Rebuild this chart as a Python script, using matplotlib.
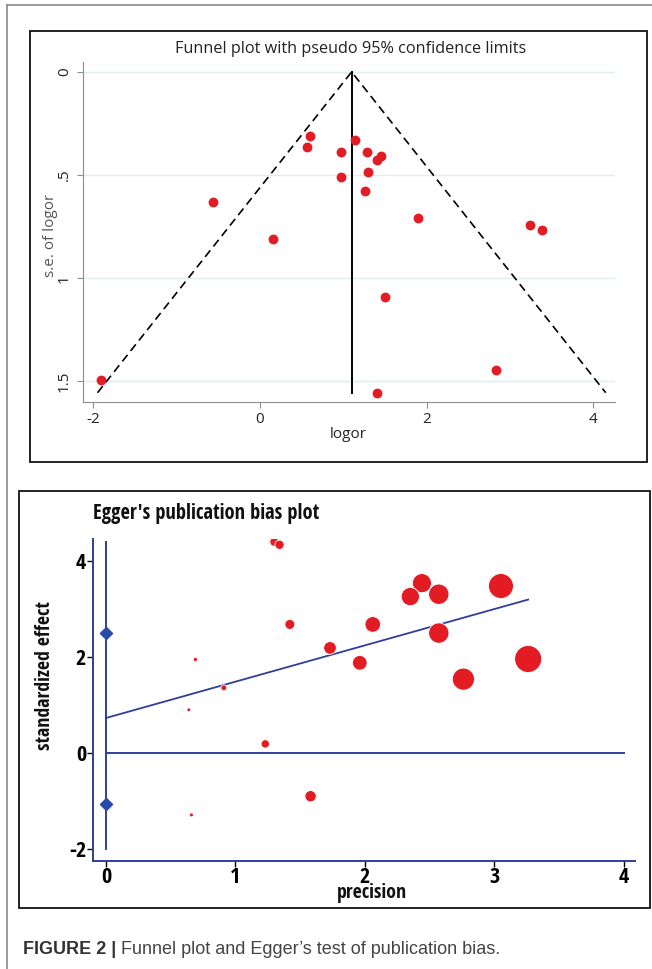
import numpy as np
import matplotlib
matplotlib.use("Agg")
import matplotlib.pyplot as plt
from matplotlib.patches import Rectangle
from matplotlib.lines import Line2D

# funnel plot data: log odds ratio and its standard error
logor = [0.60, 0.56, 1.14, 0.97, 1.29, 1.45, 1.40, 1.30, 0.97, 1.26,
         -0.56, 1.90, 3.24, 3.38, 0.16, 1.50, 2.83, -1.91, 1.40]
se_logor = [0.309, 0.363, 0.328, 0.389, 0.389, 0.407, 0.426, 0.486, 0.510, 0.576,
            0.630, 0.706, 0.744, 0.767, 0.812, 1.090, 1.445, 1.494, 1.555]
pooled_logor = 1.10

# Egger plot data: precision and standardized effect
precision = [1.30, 1.34, 2.44, 2.35, 2.57, 3.05, 1.42, 2.06, 1.73, 2.57,
             1.96, 3.26, 2.76, 0.69, 0.91, 0.64, 1.23, 1.58, 0.66]
std_effect = [4.40, 4.34, 3.54, 3.26, 3.31, 3.48, 2.68, 2.68, 2.19, 2.50,
              1.88, 1.96, 1.54, 1.95, 1.36, 0.90, 0.19, -0.90, -1.29]
egger_intercept = 0.73
egger_slope = 0.757
intercept_ci = [-1.06, 2.50]

funnel_xticks = [-2, 0, 2, 4]
funnel_yticks = [0, 0.5, 1, 1.5]
funnel_ylabels = ["0", ".5", "1", "1.5"]
egger_xticks = [0, 1, 2, 3, 4]
egger_yticks = [-2, 0, 2, 4]

W, H = 652, 969
RED = "#e31b23"
NAVY = "#2f3e9e"
COND = dict(family=["Open Sans Condensed", "Roboto Condensed", "Roboto"],
            weight="bold")


def fx(x):
    return x / W


def fy(y):
    return 1 - y / H


fig = plt.figure(figsize=(W / 100, H / 100), dpi=100)

# outer frame lines and panel boxes
fig.add_artist(Line2D([fx(7), fx(7)], [fy(5), 0], color="#8a8a8a", lw=1.2))
fig.add_artist(Line2D([fx(7), 1], [fy(5), fy(5)], color="#8a8a8a", lw=1.2))
fig.add_artist(Rectangle((fx(30), fy(462)), fx(617), 431 / H, fill=False,
                         ec="#111111", lw=1.3))
fig.add_artist(Rectangle((fx(19), fy(908)), fx(631), 417 / H, fill=False,
                         ec="#111111", lw=1.3))

# ---- funnel plot ----
ax1 = fig.add_axes([fx(83), fy(402), fx(532), 340 / H])
for s in ["top", "right"]:
    ax1.spines[s].set_visible(False)
for s in ["left", "bottom"]:
    ax1.spines[s].set_color("#8c8c8c")
ax1.set_xlim(-2.122, 4.259)
ax1.set_ylim(1.6, -0.048)
ax1.set_xticks(funnel_xticks)
ax1.set_xticklabels([str(t) for t in funnel_xticks], fontsize=11,
                    family="Open Sans")
ax1.set_yticks(funnel_yticks)
ax1.set_yticklabels(funnel_ylabels, fontsize=11, family="Open Sans",
                    rotation=90, va="center")
ax1.tick_params(colors="#8c8c8c", length=4, labelcolor="#222222")
ax1.tick_params(axis="y", pad=4)
for t in funnel_yticks:
    ax1.axhline(t, color="#e0eef0", lw=1, zorder=0)

max_se = max(se_logor)
ax1.plot([pooled_logor, pooled_logor], [0, max_se], color="black", lw=1.4)
ax1.plot([pooled_logor - 1.96 * max_se, pooled_logor, pooled_logor + 1.96 * max_se],
         [max_se, 0, max_se], color="black", lw=1.2, ls=(0, (5, 3)))
ax1.scatter(logor, se_logor, s=50, color=RED, zorder=3, linewidths=0)

fig.text(fx(351), fy(49), "Funnel plot with pseudo 95% confidence limits",
         ha="center", va="center", fontsize=11.7, family="Open Sans", color="#222222")
fig.text(fx(348), fy(434), "logor", ha="center", va="center", fontsize=11,
         family="Open Sans", color="#222222")
fig.text(fx(50), fy(235), "s.e. of logor", ha="center", va="center", fontsize=11,
         family="Open Sans", rotation=90, color="#555555")

# ---- Egger plot ----
ax2 = fig.add_axes([fx(93), fy(861), fx(542), 322 / H])
for s in ["top", "right"]:
    ax2.spines[s].set_visible(False)
for s in ["left", "bottom"]:
    ax2.spines[s].set_color(NAVY)
    ax2.spines[s].set_linewidth(1.4)
ax2.set_xlim(-0.1, 4.085)
ax2.set_ylim(-2.25, 4.46)
ax2.set_xticks(egger_xticks)
ax2.set_xticklabels([str(t) for t in egger_xticks], fontsize=16, **COND)
ax2.set_yticks(egger_yticks)
ax2.set_yticklabels([str(t) for t in egger_yticks], fontsize=16, **COND)
ax2.tick_params(colors="black", length=4, width=1, pad=1)
ax2.tick_params(axis="x", pad=0)

ax2.plot([0, 0], [-2.0, max(std_effect)], color=NAVY, lw=1.4)
ax2.plot([0, 4], [0, 0], color=NAVY, lw=1.4)
xfit = np.array([0, max(precision)])
ax2.plot(xfit, egger_intercept + egger_slope * xfit, color=NAVY, lw=1.3)
ax2.scatter([0, 0], intercept_ci, marker="D", s=38, color="#2a4aa8", zorder=4)

prec = np.array(precision)
radius = 13.5 * (prec / prec.max()) ** 1.2
sizes = (2 * radius * 0.72) ** 2
ax2.scatter(precision, std_effect, s=sizes, color=RED, edgecolors="white",
            linewidths=0.6, zorder=3)

fig.text(fx(93), fy(514), "Egger's publication bias plot", ha="left", va="center",
         fontsize=14.8, color="#111111", **COND)
fig.text(fx(372), fy(893), "precision", ha="center", va="center", fontsize=14.3,
         color="#111111", **COND)
fig.text(fx(45), fy(676), "standardized effect", ha="center", va="center",
         fontsize=14.3, rotation=90, color="#111111", **COND)

# caption
cap1 = fig.text(fx(23), fy(949), "FIGURE 2 | ", ha="left", va="center",
                fontsize=13, family="Liberation Sans", weight="bold", color="#333333")
fig.canvas.draw()
bb = cap1.get_window_extent(renderer=fig.canvas.get_renderer())
fig.text(bb.x1 / W, fy(949), "Funnel plot and Egger\u2019s test of publication bias.",
         ha="left", va="center", fontsize=13, family="Liberation Sans", color="#444444")

fig.savefig("out.png", dpi=100)
